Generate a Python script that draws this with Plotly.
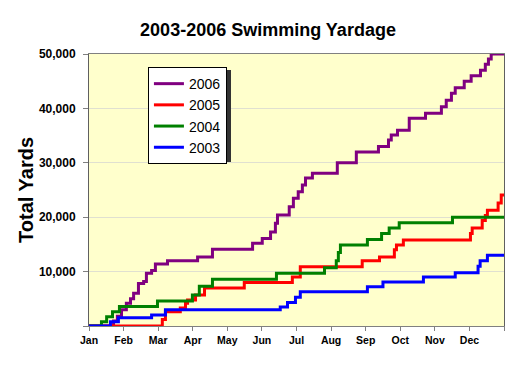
import plotly.graph_objects as go

months = ["Jan", "Feb", "Mar", "Apr", "May", "Jun", "Jul", "Aug", "Sep", "Oct", "Nov", "Dec"]

# x = position in months (0 = Jan 1, 12 = Dec 31); value = cumulative yards after that swim
x2006 = [0, 0.71, 0.82, 0.94, 1.08, 1.20, 1.29, 1.43, 1.58, 1.66, 1.81, 1.92, 2.27, 3.14, 3.57,
         4.73, 5.01, 5.25, 5.39, 5.45, 5.79, 5.91, 6.05, 6.17, 6.26, 6.46, 7.18, 7.73, 8.37, 8.66,
         8.74, 8.92, 9.26, 9.73, 10.19, 10.33, 10.48, 10.59, 10.85, 11.05, 11.32, 11.46, 11.55,
         11.63, 12]
y2006 = [0, 900, 1800, 3000, 4200, 5000, 6000, 7800, 8200, 9700, 10200, 11400, 12000, 12700, 14100,
         15200, 16100, 17300, 18900, 20400, 21900, 23500, 24700, 25900, 27200, 28100, 30000, 32000,
         33000, 34200, 35100, 36000, 38200, 39100, 40300, 41500, 42800, 43800, 45000, 46000, 47000,
         48100, 49100, 50000, 50000]

x2005 = [0, 2.12, 2.21, 2.64, 2.79, 2.85, 3.08, 3.34, 4.49, 5.88, 6.11, 7.90, 8.40, 8.83, 8.89,
         9.09, 11.03, 11.08, 11.37, 11.46, 11.52, 11.83, 11.92, 12]
y2005 = [0, 1200, 2600, 3300, 4200, 4800, 5700, 7000, 8000, 9000, 10900, 12000, 12700, 14000, 14900,
         15800, 17000, 18000, 19400, 20300, 21300, 22600, 24100, 24100]

x2004 = [0, 0.36, 0.51, 0.68, 0.88, 1.98, 2.99, 3.19, 3.57, 5.42, 6.81, 7.15, 7.21, 7.27, 8.05,
         8.46, 8.68, 8.97, 10.51, 12]
y2004 = [0, 800, 1700, 2600, 3600, 4600, 5700, 7300, 8600, 9700, 10700, 12000, 13500, 14900, 15900,
         17000, 18000, 19000, 20000, 20000]

x2003 = [0, 0.62, 0.85, 1.81, 2.21, 5.53, 5.74, 5.97, 6.11, 8.05, 8.50, 9.67, 10.59, 11.25, 11.31,
         11.52, 12]
y2003 = [0, 800, 1500, 2000, 3000, 3500, 4300, 5300, 6300, 7200, 8100, 9000, 9800, 11000, 12000,
         13000, 13000]

series = [
    ("2006", x2006, y2006, "#800080"),
    ("2005", x2005, y2005, "#FF0000"),
    ("2004", x2004, y2004, "#008000"),
    ("2003", x2003, y2003, "#0000FF"),
]

fig = go.Figure()
for name, xs, ys, col in series:
    fig.add_trace(go.Scatter(x=xs, y=ys, name=name, mode="lines",
                             line=dict(color=col, width=3, shape="hv")))

font_family = "Liberation Sans, Arial, sans-serif"

# page has an 8px body margin, so the figure is 512x367 placed at (8, 8)
W, H = 512, 367
fig.update_layout(
    width=W, height=H,
    margin=dict(l=81, r=16, t=46, b=49),
    paper_bgcolor="white",
    plot_bgcolor="#FFFFCC",
    font=dict(family=font_family, color="black"),
    title=dict(text="<b>2003-2006 Swimming Yardage</b>", x=260 / W, xanchor="center",
               y=1 - 22 / H, yanchor="middle", yref="container",
               font=dict(size=18, family=font_family, color="black")),
    showlegend=True,
    legend=dict(x=0.142, y=0.952, xanchor="left", yanchor="top",
                bgcolor="white", bordercolor="black", borderwidth=1,
                font=dict(size=14, family=font_family, color="black"),
                itemwidth=30, tracegroupgap=0),
    xaxis=dict(range=[0, 12], tickvals=list(range(13)), ticktext=months + [""],
               ticks="outside", ticklen=4, tickcolor="#808080",
               showline=True, linecolor="#808080", linewidth=1, mirror=True,
               showgrid=False, zeroline=False,
               tickfont=dict(size=10.5, family=font_family, color="black", weight="bold")),
    yaxis=dict(range=[0, 50000], tickvals=[0, 10000, 20000, 30000, 40000, 50000],
               ticktext=["", "10,000", "20,000", "30,000", "40,000", "50,000"],
               ticks="outside", ticklen=5, tickcolor="#808080", ticklabelstandoff=5,
               showline=True, linecolor="#606060", linewidth=1, mirror=True,
               showgrid=True, gridcolor="#E0E0D0", gridwidth=1, zeroline=False,
               tickfont=dict(size=12, family=font_family, color="black", weight="bold")),
    annotations=[dict(text="<b>Total Yards</b>", xref="paper", yref="paper",
                      x=-0.152, y=0.5, xanchor="center", yanchor="middle",
                      textangle=-90, showarrow=False,
                      font=dict(size=20, family=font_family, color="black"))],
    shapes=[dict(type="rect", xref="paper", yref="paper",
                 x0=(151 - 89) / 415, x1=(231 - 89) / 415,
                 y0=(326 - 162) / 272, y1=(326 - 70) / 272,
                 fillcolor="#333333", line=dict(width=0), layer="above")],
)

fig.write_html("out.html")
